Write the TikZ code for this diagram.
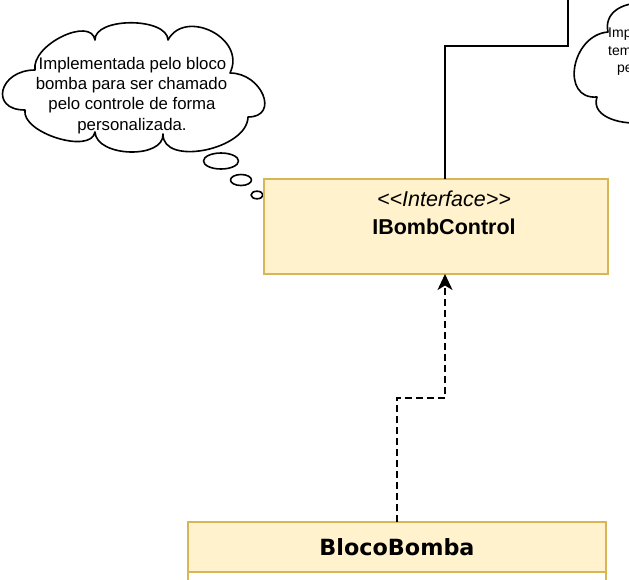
\documentclass[tikz,border=0pt]{standalone}
\usepackage{fontspec}
\setmainfont{Liberation Sans}
\newfontfamily\dvsans{DejaVu Sans}
\usetikzlibrary{arrows.meta,calc}
\definecolor{boxfill}{HTML}{FFF2CC}
\definecolor{boxline}{HTML}{D6B656}
\begin{document}
\begin{tikzpicture}[x=1pt,y=-1pt,
  umlbox/.style={draw=boxline, fill=boxfill, line width=1.6pt, inner sep=0pt, outer sep=0pt},
  umlbody/.style={draw=boxline, fill=white, line width=1.6pt, inner sep=0pt, outer sep=0pt},
  cloudline/.style={draw=black, line width=1.6pt, fill=white, line join=round},
  notetext/.style={inner sep=0pt, anchor=base, font=\fontsize{16.8}{20}\selectfont},
  smalltext/.style={inner sep=0pt, anchor=base west, font=\fontsize{14}{17}\selectfont},
  conn/.style={draw=black, line width=2pt},
  dep/.style={draw=black, line width=1.8pt, dash pattern=on 7pt off 4pt, -{Stealth[length=16pt,width=15pt,inset=4.5pt]}}
]
\useasboundingbox (0,0) rectangle (629,579);
\begin{scope}
\clip (0,0) rectangle (629,579);

% right cloud (cut by the border)
\path[cloudline] (608,32) .. controls (604,14) and (620,2) .. (645,3)
  -- (645,122)
  .. controls (625,126) and (590,118) .. (597,97)
  .. controls (560,100) and (571,35) .. (608,32) -- cycle;
\node[smalltext] (rt1) at (608,37) {Imp};
\node[smalltext] (rt2) at (608,55) {tem};
\node[smalltext] (rt3) at (617,72) {pe};

% left cloud
\path[cloudline] (35,70)
  .. controls (31,44.7) and (91,16) .. (95,40)
  .. controls (94.3,17) and (167.3,17) .. (168,40)
  .. controls (185,8) and (247,38) .. (230,73)
  .. controls (262,73) and (280,117) .. (248,117)
  .. controls (247.3,149.7) and (162.3,166.7) .. (163,134)
  .. controls (164.3,159.3) and (96.3,157.3) .. (95,132)
  .. controls (91,154.7) and (21,132.7) .. (25,110)
  .. controls (-11,110) and (-1,70) .. (35,70) -- cycle;
\node[notetext] (lt1) at (132.5,69) {Implementada pelo bloco};
\node[notetext] (lt2) at (131.5,89) {bomba para ser chamado};
\node[notetext] (lt3) at (132,109.5) {pelo controle de forma};
\node[notetext] (lt4) at (132,130) {personalizada.};
\path[cloudline] (221,161) ellipse [x radius=17.5, y radius=8];
\path[cloudline] (241,180) ellipse [x radius=10.5, y radius=5.5];
\path[cloudline] (257,195) ellipse [x radius=6, y radius=3.8];

% interface box
\node[umlbox, minimum width=344pt, minimum height=95pt, anchor=north west] (ib) at (264,179) {};
\node[inner sep=0pt, anchor=base, font=\fontsize{21.5}{25}\selectfont\itshape] (ibst) at (444,206) {<{}<Interface>{}>};
\node[inner sep=0pt, anchor=base, font=\fontsize{21.5}{25}\selectfont\bfseries] (ibname) at (444,234) {IBombControl};

% BlocoBomba class
\node[umlbody, minimum width=418pt, minimum height=40pt, anchor=north west] (bbbody) at (188,572) {};
\node[umlbox, minimum width=418pt, minimum height=50pt, anchor=north west] (bb) at (188,522) {};
\node[inner sep=0pt, anchor=base, font=\dvsans\fontsize{22.3}{26}\selectfont\bfseries] (bbname) at (397,555) {BlocoBomba};

% connectors
\coordinate (j1) at (445,46);
\coordinate (topend) at (568,-5);
\draw[conn] (ib.north -| j1) -- (j1) -| (topend);
\coordinate (bend) at (445,398);
\draw[dep] (bb.north) |- (bend) -- (ib.south -| bend);
\end{scope}
\end{tikzpicture}
\end{document}
